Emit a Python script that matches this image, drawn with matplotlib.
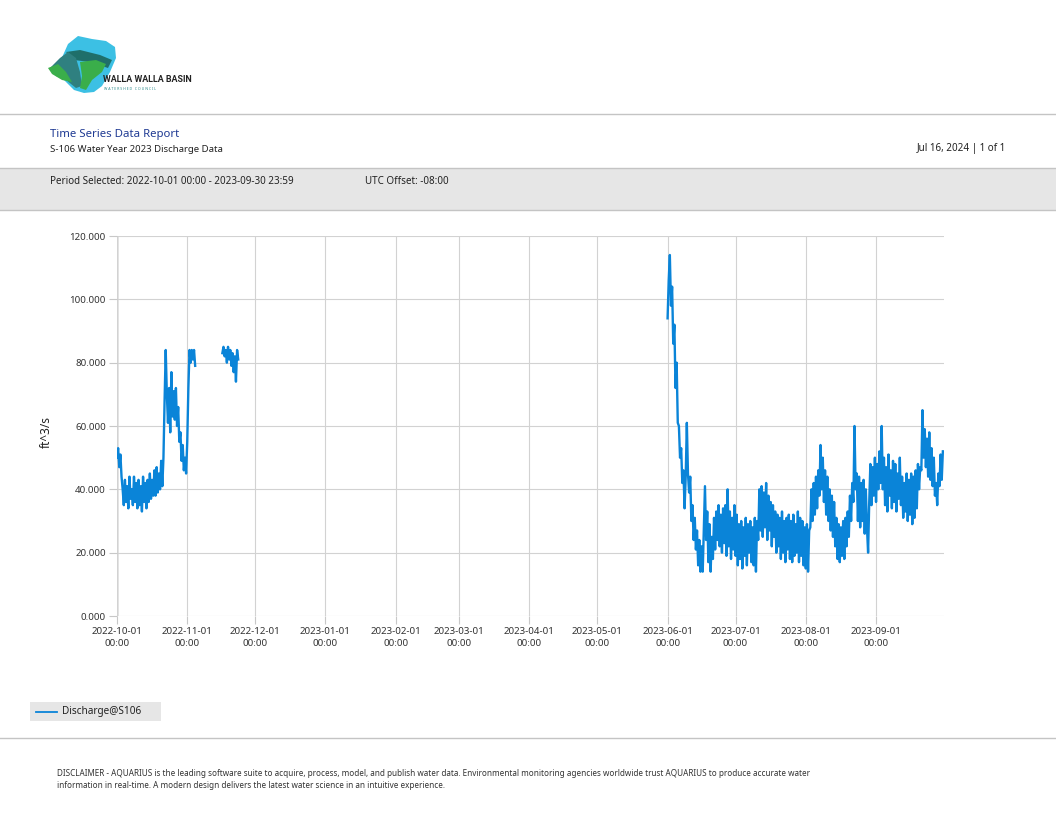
import numpy as np
import pandas as pd
import matplotlib
matplotlib.use("Agg")
import matplotlib.pyplot as plt
import matplotlib.dates as mdates
from matplotlib.patches import Polygon, Rectangle

plt.rcParams['font.family'] = ['Noto Sans', 'DejaVu Sans']

# ---------------- data (ft^3/s, 12-hour steps) ----------------
seg1_start = "2022-10-01 00:00"
seg1_values = [50, 53, 47, 51, 44, 40, 35, 43, 36, 41, 34, 44, 37, 40, 35, 44, 36, 42, 34, 43,
               35, 41, 33, 44, 36, 42, 34, 43, 36, 45, 37, 43, 38, 46, 38, 47, 39, 45, 40, 49,
               41, 50, 68, 84, 70, 61, 72, 58, 77, 63, 71, 62, 72, 60, 66, 55, 58, 49, 54, 46,
               50, 45, 55, 72, 84, 80, 84, 81, 84, 79]

seg2_start = "2022-11-16 12:00"
seg2_values = [83, 85, 82, 84, 80, 85, 81, 84, 79, 83, 77, 82, 74, 84, 81]

seg3_start = "2023-06-01 00:00"
seg3_values = [94, 106, 114, 98, 104, 86, 92, 72, 80, 61, 60, 50, 53, 42, 46, 34, 44, 61, 45, 39,
               44, 30, 35, 24, 31, 21, 27, 16, 24, 14, 22, 14, 27, 41, 24, 33, 17, 29, 14, 25,
               18, 31, 21, 33, 24, 35, 22, 32, 20, 34, 23, 35, 19, 40, 22, 33, 18, 31, 21, 35,
               19, 32, 16, 29, 18, 30, 15, 28, 19, 31, 16, 29, 20, 30, 17, 28, 16, 31, 14, 30,
               24, 40, 27, 41, 25, 39, 28, 42, 24, 38, 27, 36, 22, 35, 25, 33, 20, 32, 22, 31,
               18, 33, 20, 30, 17, 31, 21, 32, 18, 30, 17, 32, 19, 29, 20, 33, 17, 31, 19, 30,
               16, 28, 15, 29, 14, 27, 28, 40, 30, 42, 32, 44, 34, 46, 38, 54, 40, 50, 36, 46,
               32, 44, 30, 40, 27, 38, 25, 36, 22, 31, 18, 29, 17, 28, 19, 30, 18, 31, 22, 33,
               25, 38, 30, 42, 36, 60, 40, 45, 30, 44, 28, 42, 30, 43, 26, 40, 28, 20, 36, 48,
               35, 47, 38, 50, 36, 48, 40, 52, 42, 60, 40, 50, 35, 47, 33, 51, 38, 46, 34, 49,
               36, 48, 33, 45, 37, 50, 35, 44, 31, 42, 33, 45, 30, 43, 32, 45, 29, 44, 31, 46,
               34, 48, 40, 47, 46, 65, 50, 59, 47, 56, 44, 58, 43, 53, 41, 50, 38, 42, 35, 45,
               41, 51, 43, 52]

x_ticks = ["2022-10-01", "2022-11-01", "2022-12-01", "2023-01-01", "2023-02-01", "2023-03-01",
           "2023-04-01", "2023-05-01", "2023-06-01", "2023-07-01", "2023-08-01", "2023-09-01"]
y_ticks = [0, 20, 40, 60, 80, 100, 120]
x_range = ["2022-10-01 00:00", "2023-10-01 00:00"]

series_label = "Discharge@S106"
LINE = '#0a84d8'

W, H = 1056, 816
fig = plt.figure(figsize=(W / 100, H / 100), dpi=100)

# ---------------- overlay (pixel coordinates) ----------------
ov = fig.add_axes([0, 0, 1, 1], zorder=0)
ov.set_xlim(0, W)
ov.set_ylim(H, 0)
ov.axis('off')

# separators and grey band
ov.add_patch(Rectangle((0, 168), W, 42, facecolor='#e6e6e6', edgecolor='none'))
for yy in (114, 168, 210, 738):
    ov.plot([0, W], [yy, yy], color='#c4c4c4', lw=1.0)

# logo (simplified)
ov.add_patch(Polygon([(68, 44), (78, 36), (92, 39), (106, 41), (115, 47), (116, 58), (110, 72),
                      (102, 86), (94, 92), (84, 93), (74, 90), (64, 80), (56, 72), (60, 62)],
                     closed=True, facecolor='#3cc0e4', edgecolor='none'))
ov.add_patch(Polygon([(66, 52), (80, 50), (100, 55), (112, 60), (108, 68), (90, 62), (74, 60)],
                     closed=True, facecolor='#1f6f6a', edgecolor='none'))
ov.add_patch(Polygon([(50, 68), (60, 58), (68, 52), (76, 58), (80, 72), (82, 86), (76, 88),
                      (66, 80), (56, 76)], closed=True, facecolor='#2f8080', edgecolor='none'))
ov.add_patch(Polygon([(48, 68), (58, 64), (66, 72), (72, 82), (62, 80), (52, 74)],
                     closed=True, facecolor='#3aae4a', edgecolor='none'))
ov.add_patch(Polygon([(80, 62), (96, 60), (106, 64), (102, 72), (92, 80), (86, 90), (80, 88),
                      (82, 76)], closed=True, facecolor='#3aae4a', edgecolor='none'))
ov.text(103, 80, "WALLA WALLA BASIN", fontsize=6.4, fontweight='bold', color='#222222',
        ha='left', va='center', family=['Roboto', 'DejaVu Sans'])
ov.text(104, 89, "W A T E R S H E D   C O U N C I L", fontsize=2.6, color='#2a8a8a',
        ha='left', va='center')

# header texts
ov.text(50, 135, "Time Series Data Report", fontsize=8.2, color='#1f3a93', ha='left', va='center')
ov.text(50, 149, "S-106 Water Year 2023 Discharge Data", fontsize=6.9, color='#222222',
        ha='left', va='center')
ov.text(1006, 149, "Jul 16, 2024 | 1 of 1", fontsize=7.1, color='#222222', ha='right', va='center')
ov.text(50, 182, "Period Selected: 2022-10-01 00:00 - 2023-09-30 23:59", fontsize=7.1,
        color='#222222', ha='left', va='center')
ov.text(365, 182, "UTC Offset: -08:00", fontsize=7.1, color='#222222', ha='left', va='center')

# y label
ov.text(46, 432, "ft^3/s", fontsize=8.5, color='#222222', rotation=90, ha='center', va='center')

# legend box
ov.add_patch(Rectangle((30, 702), 131, 19, facecolor='#e6e6e6', edgecolor='none'))
ov.plot([36, 57], [711.5, 711.5], color=LINE, lw=1.3)
ov.text(62, 711.5, series_label, fontsize=7.2, color='#222222', ha='left', va='center')

# disclaimer
ov.text(57, 774, "DISCLAIMER - AQUARIUS is the leading software suite to acquire, process, model, and "
        "publish water data. Environmental monitoring agencies worldwide trust AQUARIUS to produce "
        "accurate water", fontsize=5.85, color='#333333', ha='left', va='center')
ov.text(57, 785, "information in real-time. A modern design delivers the latest water science in an "
        "intuitive experience.", fontsize=5.85, color='#333333', ha='left', va='center')

# ---------------- chart ----------------
left, right, top, bottom = 117, 944, 236, 616
ax = fig.add_axes([left / W, 1 - bottom / H, (right - left) / W, (bottom - top) / H], zorder=1)
ax.patch.set_alpha(0)

for start, vals in ((seg1_start, seg1_values), (seg2_start, seg2_values), (seg3_start, seg3_values)):
    t = pd.date_range(start=start, periods=len(vals), freq='12h')
    ax.plot(t, vals, color=LINE, lw=1.7, solid_joinstyle='round')

ax.set_xlim(pd.Timestamp(x_range[0]), pd.Timestamp(x_range[1]))
ax.set_ylim(y_ticks[0], y_ticks[-1])
ax.set_yticks(y_ticks)
ax.set_yticklabels([f"{v:.3f}" for v in y_ticks])
xt = [pd.Timestamp(s) for s in x_ticks]
ax.set_xticks(xt)
ax.set_xticklabels([f"{s}\n00:00" for s in x_ticks])

for s in ax.spines.values():
    s.set_visible(False)
ax.grid(True, color='#d2d2d2', lw=0.8)
ax.axvline(pd.Timestamp(x_range[0]), color='#e2e2e2', lw=2.0, zorder=0)
ax.tick_params(axis='both', colors='#c8c8c8', length=6, width=0.8, labelcolor='#333333',
               labelsize=7.0)
ax.tick_params(axis='x', pad=2)
ax.tick_params(axis='y', pad=2)
for lbl in ax.get_xticklabels():
    lbl.set_linespacing(1.35)

fig.savefig("out.png", dpi=100)
